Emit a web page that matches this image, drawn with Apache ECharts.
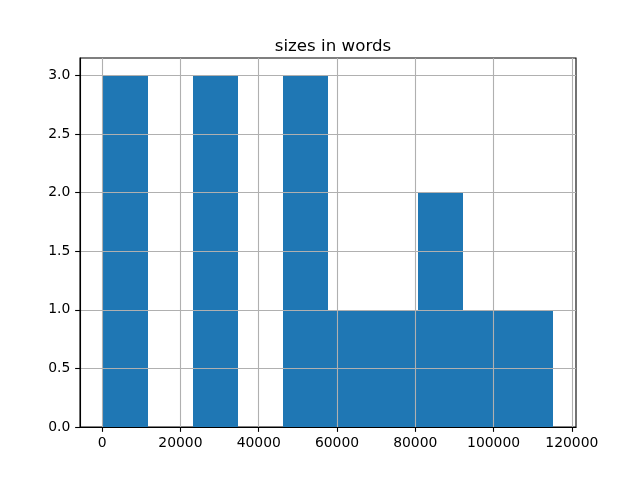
<!DOCTYPE html>
<html>
<head>
<meta charset="utf-8">
<script src="https://cdn.jsdelivr.net/npm/echarts@6/dist/echarts.min.js"></script>
<style>html,body{margin:0;padding:0;background:#fff}#c{width:640px;height:480px}</style>
</head>
<body>
<div id="c"></div>
<script>
const titleText = 'sizes in words';
const binEdges = [100, 11620, 23140, 34660, 46180, 57700, 69220, 80740, 92260, 103780, 115300];
const counts = [3, 0, 3, 0, 3, 1, 1, 2, 1, 1];
const xTicks = [0, 20000, 40000, 60000, 80000, 100000, 120000];
const yTicks = [0, 0.5, 1.0, 1.5, 2.0, 2.5, 3.0];

const data = counts.map((c, i) => [binEdges[i], binEdges[i + 1], c]);
const xSpan = binEdges[binEdges.length - 1] - binEdges[0];
const xMin = binEdges[0] - 0.05 * xSpan;
const xMax = binEdges[binEdges.length - 1] + 0.05 * xSpan;
const yMax = Math.max(...counts) * 1.05;

const font = 'DejaVu Sans';
const lw = 1.1;
const chart = echarts.init(document.getElementById('c'), null, {renderer: 'canvas'});
chart.setOption({
  animation: false,
  backgroundColor: '#fff',
  title: {
    text: titleText,
    left: 328, top: 33,
    textAlign: 'center',
    textStyle: {fontFamily: font, fontSize: 16.67, fontWeight: 'normal', color: '#000'}
  },
  grid: {left: 80, right: 64, top: 58, bottom: 53, show: true, borderColor: '#000', borderWidth: lw, backgroundColor: 'transparent'},
  xAxis: {
    type: 'value', min: xMin, max: xMax, z: 5,
    axisLine: {show: true, onZero: false, lineStyle: {color: '#000', width: lw}},
    axisTick: {show: true, length: 4.86, inside: false, customValues: xTicks, lineStyle: {color: '#000', width: lw}},
    axisLabel: {customValues: xTicks, margin: 9.7, fontFamily: font, fontSize: 13.9, color: '#000', formatter: v => String(Math.round(v))},
    splitLine: {show: true, lineStyle: {color: '#b0b0b0', width: lw}}
  },
  yAxis: {
    type: 'value', min: 0, max: yMax, z: 5,
    axisLine: {show: true, onZero: false, lineStyle: {color: '#000', width: lw}},
    axisTick: {show: true, length: 4.86, inside: false, customValues: yTicks, lineStyle: {color: '#000', width: lw}},
    axisLabel: {customValues: yTicks, margin: 9.7, fontFamily: font, fontSize: 13.9, color: '#000', formatter: v => v.toFixed(1)},
    splitLine: {show: true, lineStyle: {color: '#b0b0b0', width: lw}}
  },
  series: [{
    type: 'custom', z: 2,
    data: data,
    encode: {x: [0, 1], y: 2},
    renderItem: function (params, api) {
      if (!api.value(2)) return null;
      const p0 = api.coord([api.value(0), api.value(2)]);
      const p1 = api.coord([api.value(1), 0]);
      const x0 = Math.round(p0[0]), x1 = Math.round(p1[0]);
      const y0 = Math.round(p0[1]), y1 = Math.round(p1[1]);
      return {
        type: 'rect',
        shape: {x: x0, y: y0, width: x1 - x0, height: y1 - y0},
        style: {fill: '#1f77b4'}
      };
    }
  }]
});
</script>
</body>
</html>
